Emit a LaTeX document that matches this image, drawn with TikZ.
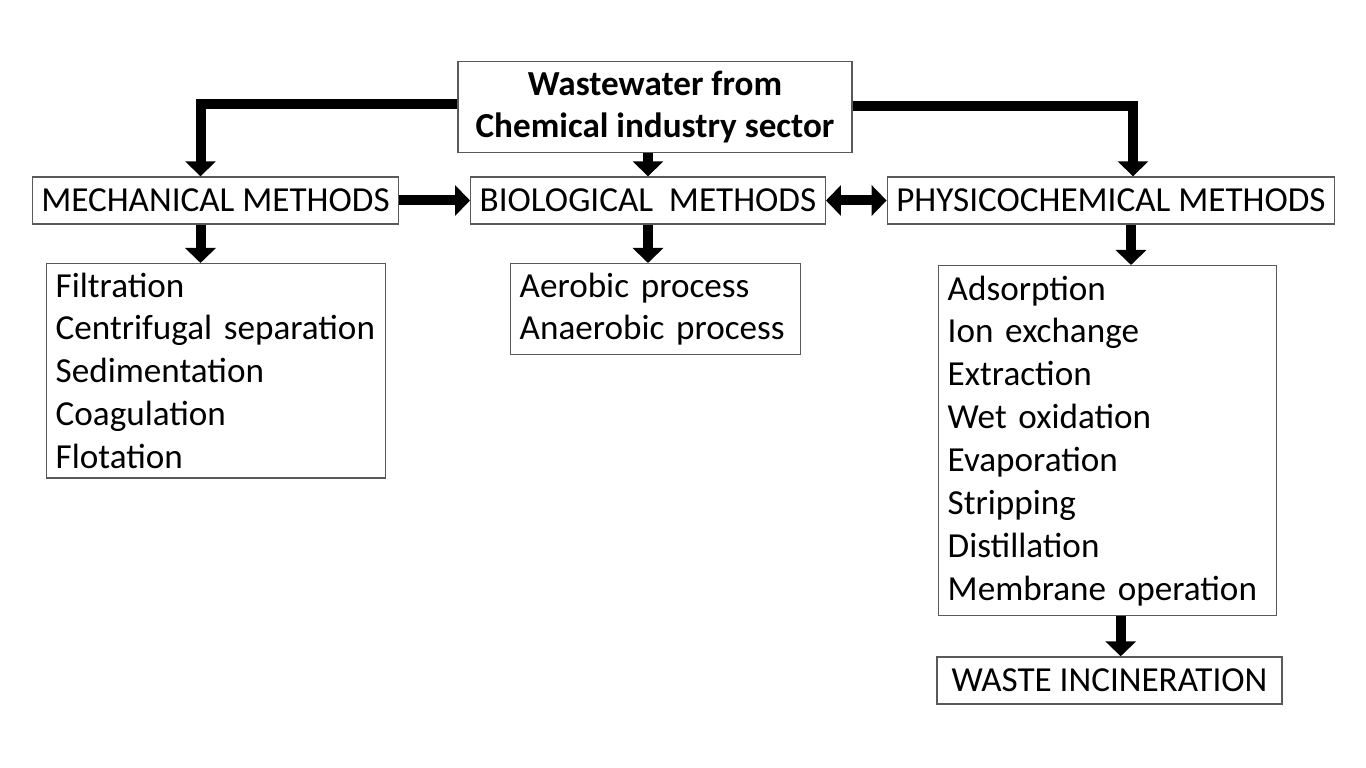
\documentclass[tikz,border=0pt]{standalone}
\usepackage{fontspec}
\setmainfont{Carlito}
\definecolor{boxgray}{rgb}{0.35, 0.35, 0.35}
\usepackage{tikz}
\usetikzlibrary{arrows.meta, calc, positioning}

\begin{document}
\begin{tikzpicture}[
    box/.style = {draw = boxgray, line width = 0.8pt, inner sep = 0.18cm},
    methodbox/.style = {box, minimum height = 0.94cm, font = \fontsize{20}{24.4}\selectfont},
    listbox/.style = {box, anchor = north west, align = left, font = \fontsize{20}{24.4}\selectfont},
    bigarrow/.style = {line width = 0.2cm, -{Triangle[length = 0.3cm, width = 0.6cm]}}
]
    \def \gap {0.3} % offset of the vertical arrows from the box centres

    \useasboundingbox (0,0) rectangle (27.32,-15.36);

    %% source
    \node [box, minimum width = 7.88cm, minimum height = 1.7cm, align = center,
        font = \fontsize{20}{24.4}\selectfont\bfseries] (source) at (13.1,-2.14)
        {Wastewater from\\Chemical industry sector};

    %% the three groups of methods
    \node [methodbox, minimum width = 7.18cm] (mech) at (4.31,-4.01) {MECHANICAL METHODS};
    \node [methodbox, minimum width = 7.0cm] (bio) at (12.96,-4.01) {BIOLOGICAL\ \ METHODS};
    \node [methodbox, minimum width = 8.92cm] (phys) at (22.22,-4.01) {PHYSICOCHEMICAL METHODS};

    %% lists of processes
    \node [listbox, text width = 6.42cm, minimum height = 4.22cm] (mechlist) at (0.92,-5.26)
        {Filtration\\Centrifugal separation\\Sedimentation\\Coagulation\\Flotation};
    \node [listbox, text width = 5.44cm, minimum height = 1.78cm] (biolist) at (10.2,-5.26)
        {Aerobic process\\Anaerobic process};
    \node [listbox, text width = 6.4cm, minimum height = 7.0cm] (physlist) at (18.76,-5.3)
        {Adsorption\\Ion exchange\\Extraction\\Wet oxidation\\Evaporation\\Stripping\\Distillation\\Membrane operation};

    \node [methodbox, minimum width = 6.9cm] (waste) at (22.19,-13.61) {WASTE INCINERATION};

    %%%%%%%%%%%%%%%%%%%%%%%%%%%%%%%%

    \coordinate (mechdown) at ($(mech.south)+(-\gap,0)$);
    \coordinate (physdown) at ($(phys.south)+(0.4,0)$);
    \coordinate (wastedown) at ($(physlist.south)+(0.26,0)$);

    \draw [bigarrow] ($(source.west)+(0,0.06)$) -| ($(mech.north)+(-\gap,0)$);
    \draw [bigarrow] ($(source.east)+(0,0.02)$) -| ($(phys.north)+(0.44,0)$);
    \draw [bigarrow] (bio.north |- source.south) -- (bio.north);

    \draw [bigarrow] (mech.east) -- (bio.west);
    \draw [bigarrow, {Triangle[length = 0.3cm, width = 0.6cm]}-{Triangle[length = 0.3cm, width = 0.6cm]}] (bio.east) -- (phys.west);

    \draw [bigarrow] (mechdown) -- (mechdown |- mechlist.north);
    \draw [bigarrow] (bio.south) -- (bio.south |- biolist.north);
    \draw [bigarrow] (physdown) -- (physdown |- physlist.north);
    \draw [bigarrow] (wastedown) -- (wastedown |- waste.north);

\end{tikzpicture}
\end{document}
